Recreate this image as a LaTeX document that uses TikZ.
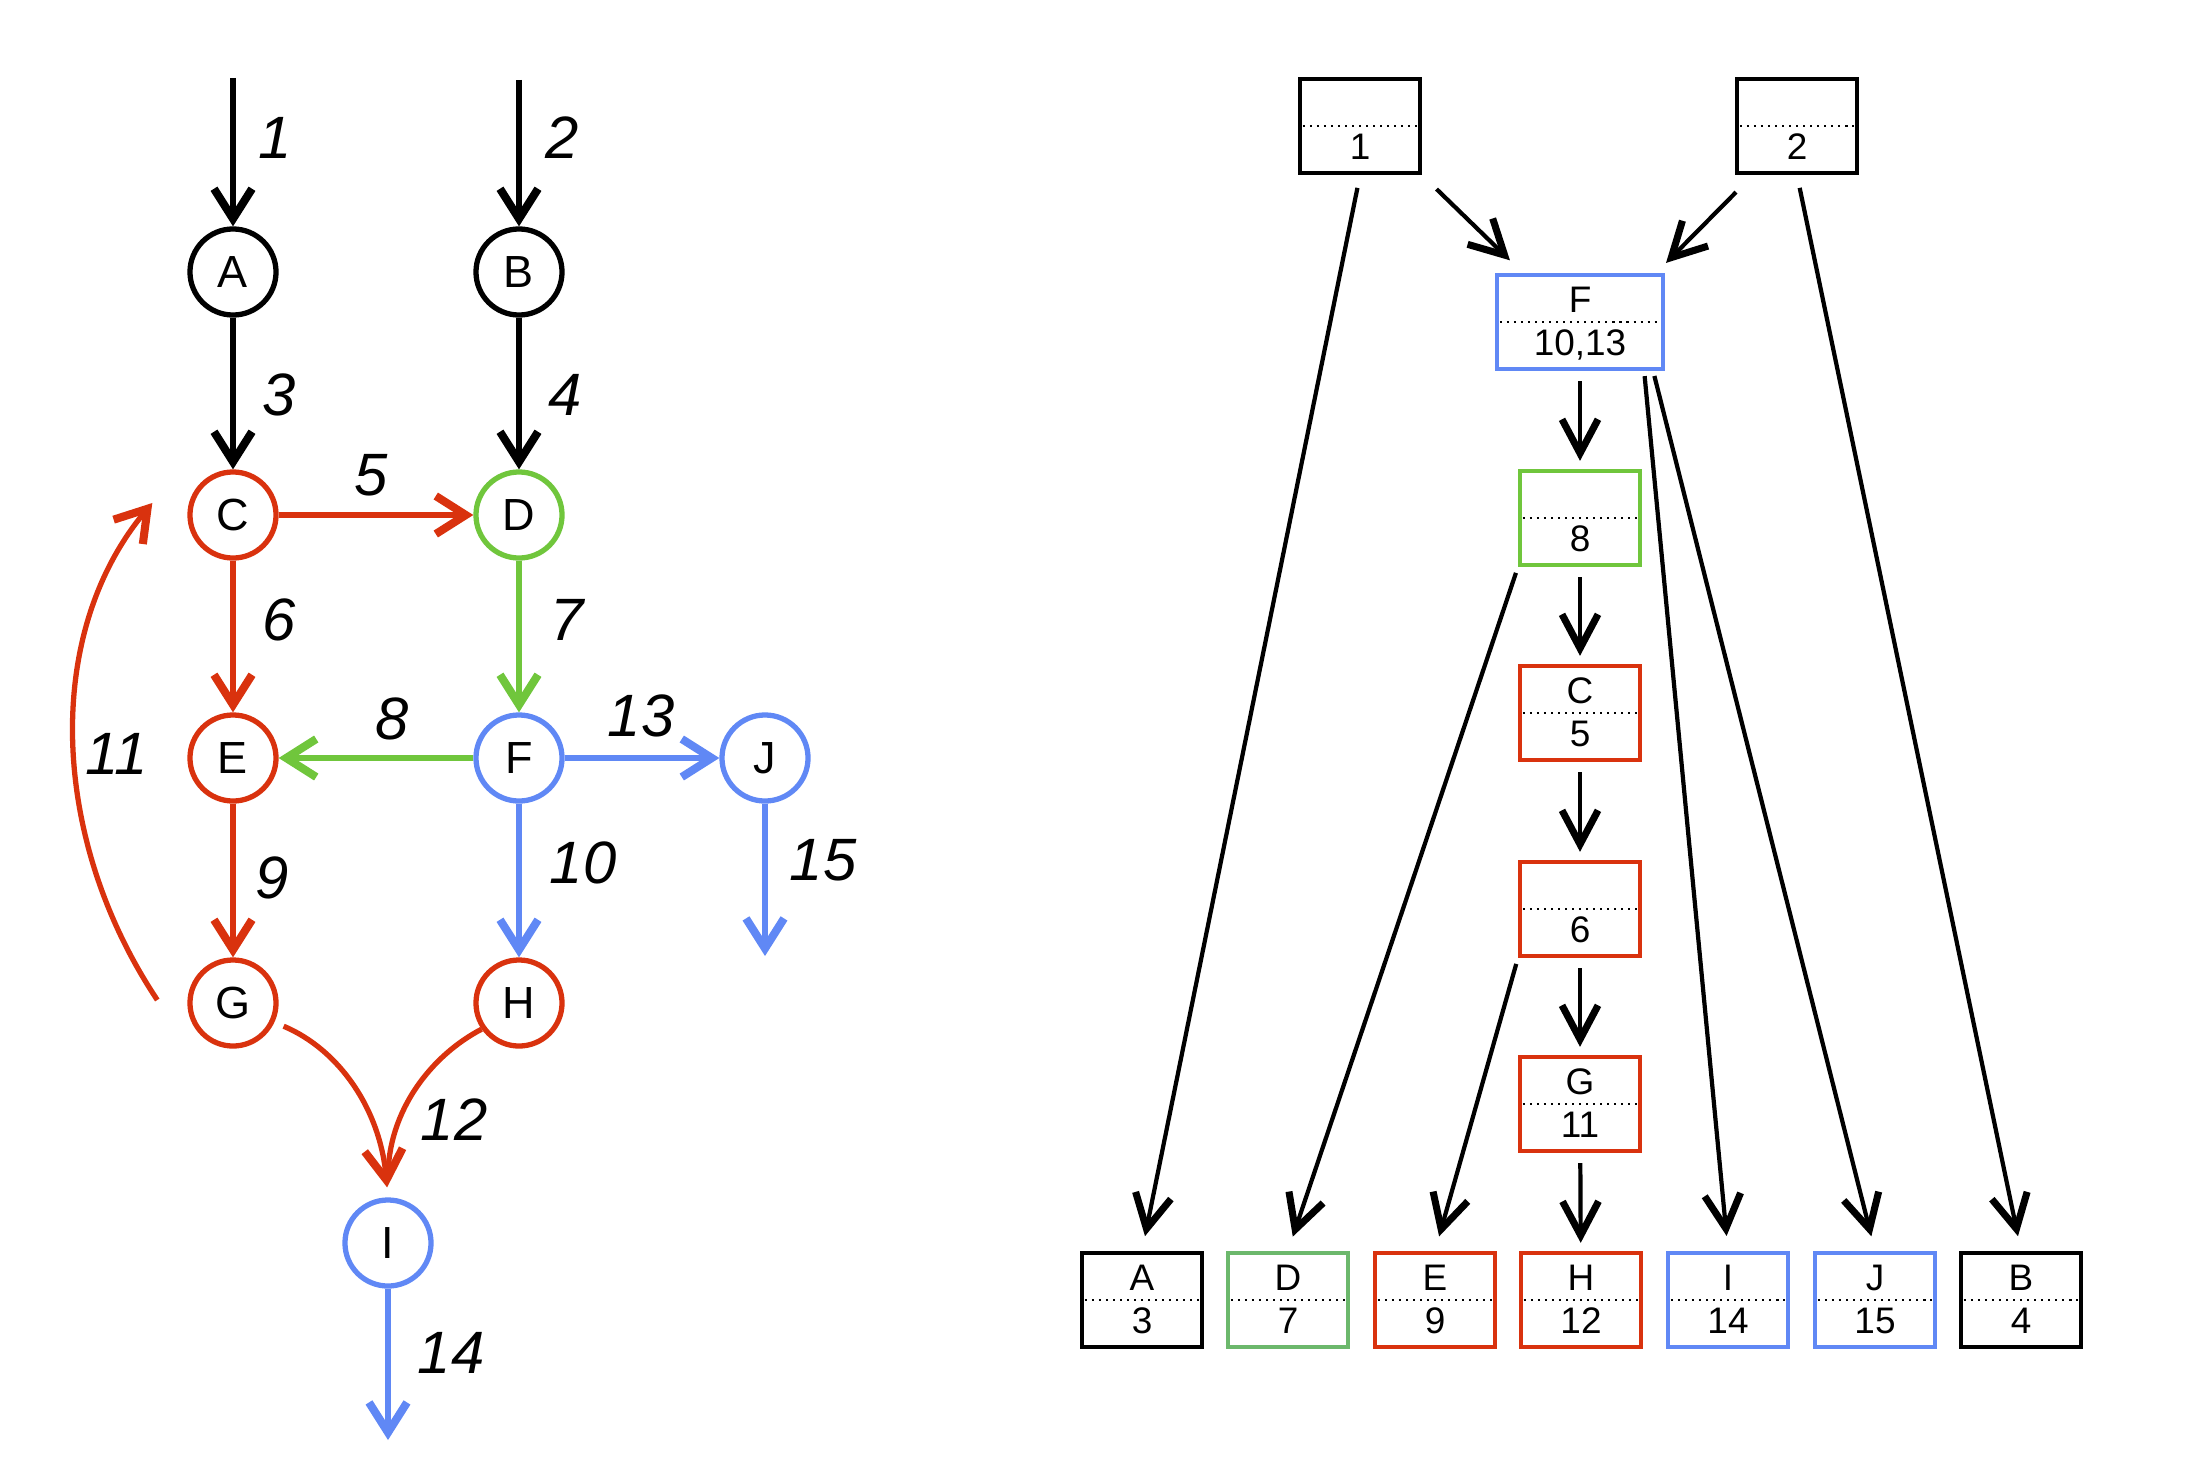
\documentclass[tikz,border=0pt]{standalone}
\usepackage{fontspec}
\setmainfont{Liberation Sans}
\usetikzlibrary{arrows.meta}

\definecolor{flowred}{RGB}{217,50,14}
\definecolor{flowgreen}{RGB}{112,198,60}
\definecolor{flowblue}{RGB}{96,136,245}
\definecolor{boxgreen}{RGB}{108,184,108}

\newcommand{\boxstrut}{\rule[-0.06cm]{0pt}{0.36cm}}

\begin{document}
\begin{tikzpicture}[x=0.01cm, y=-0.01cm,
    state/.style={draw, circle, line width=1.5pt, minimum size=0.86cm, inner sep=0pt, font=\fontsize{12.8}{14}\selectfont},
    flow/.style={line width=1.5pt, -{Straight Barb[length=0.3cm, width=0.38cm, line width=2.3pt]}},
    lbl/.style={font=\fontsize{17}{20}\selectfont\itshape},
    reg/.style={draw, rectangle, line width=1.2pt, minimum width=1.2cm, minimum height=0.94cm, inner sep=0pt, align=center, font=\fontsize{10.5}{12}\selectfont},
    link/.style={line width=1.2pt, -{Straight Barb[length=0.34cm, width=0.36cm, line width=2pt]}},
    sep/.style={line width=0.6pt, dash pattern=on 0.6pt off 1.4pt, shorten <=0.05cm, shorten >=0.05cm}]
    \useasboundingbox (0,0) rectangle (2210,1479);

    % Flow graph
    \node[state] (A) at (233,272) {A};
    \node[state] (B) at (519,272) {B};
    \node[state, draw=flowred] (C) at (233,515) {C};
    \node[state, draw=flowgreen] (D) at (519,515) {D};
    \node[state, draw=flowred] (E) at (233,758) {E};
    \node[state, draw=flowblue] (F) at (519,758) {F};
    \node[state, draw=flowblue] (J) at (765,758) {J};
    \node[state, draw=flowred] (G) at (233,1003) {G};
    \node[state, draw=flowred] (H) at (519,1003) {H};
    \node[state, draw=flowblue] (I) at (388,1243) {I};

    \coordinate (in1) at (233,78);
    \coordinate (in2) at (519,80);
    \coordinate (out15) at (765,956);
    \coordinate (out14) at (388,1440);

    % Edges
    \draw[flow] (in1) -- (A);
    \draw[flow] (in2) -- (B);
    \draw[flow] (A) -- (C);
    \draw[flow] (B) -- (D);
    \draw[flow, flowred] (C) -- (D);
    \draw[flow, flowred] (C) -- (E);
    \draw[flow, flowgreen] (D) -- (F);
    \draw[flow, flowgreen] (F) -- (E);
    \draw[flow, flowblue] (F) -- (J);
    \draw[flow, flowred] (E) -- (G);
    \draw[flow, flowblue] (F) -- (H);
    \draw[flow, flowblue] (J) -- (out15);
    \draw[flow, flowblue] (I) -- (out14);
    \draw[flow, flowred] ([xshift=-0.3cm,yshift=0.03cm]G.west) .. controls (50,839) and (43,634) .. ([xshift=-0.35cm,yshift=0.12cm]C.west);
    \draw[flow, flowred, shorten <=0.1cm, shorten >=0.1cm] (G.-25) .. controls (340,1050) and (380,1110) .. (I.north);
    \draw[flowred, line width=1.5pt, shorten >=0.2cm] (H.215) .. controls (432,1055) and (388,1110) .. (I.north);

    % Edge numbers
    \node[lbl] (n1) at (275,138) {1};
    \node[lbl] (n2) at (562,138) {2};
    \node[lbl] (n3) at (279,395) {3};
    \node[lbl] (n4) at (565,395) {4};
    \node[lbl] (n5) at (371,475) {5};
    \node[lbl] (n6) at (279,620) {6};
    \node[lbl] (n7) at (567,620) {7};
    \node[lbl] (n8) at (392,719) {8};
    \node[lbl] (n13) at (641,716) {13};
    \node[lbl] (n11) at (117,754) {11};
    \node[lbl] (n9) at (272,878) {9};
    \node[lbl] (n10) at (583,863) {10};
    \node[lbl] (n15) at (823,860) {15};
    \node[lbl] (n12) at (454,1120) {12};
    \node[lbl] (n14) at (451,1353) {14};

    % Tree of boxes
    \node[reg] (r1) at (1360,126) {\boxstrut\\\boxstrut 1};
    \node[reg] (r2) at (1797,126) {\boxstrut\\\boxstrut 2};
    \node[reg, draw=flowblue, minimum width=1.66cm] (rF) at (1580,322) {\boxstrut F\\\boxstrut 10,13};
    \node[reg, draw=flowgreen] (r8) at (1580,518) {\boxstrut\\\boxstrut 8};
    \node[reg, draw=flowred] (rC) at (1580,713) {\boxstrut C\\\boxstrut 5};
    \node[reg, draw=flowred] (r6) at (1580,909) {\boxstrut\\\boxstrut 6};
    \node[reg, draw=flowred] (rG) at (1580,1104) {\boxstrut G\\\boxstrut 11};

    % Bottom row
    \node[reg] (rA) at (1142,1300) {\boxstrut A\\\boxstrut 3};
    \node[reg, draw=boxgreen] (rD) at (1288,1300) {\boxstrut D\\\boxstrut 7};
    \node[reg, draw=flowred] (rE) at (1435,1300) {\boxstrut E\\\boxstrut 9};
    \node[reg, draw=flowred] (rH) at (1581,1300) {\boxstrut H\\\boxstrut 12};
    \node[reg, draw=flowblue] (rI) at (1728,1300) {\boxstrut I\\\boxstrut 14};
    \node[reg, draw=flowblue] (rJ) at (1875,1300) {\boxstrut J\\\boxstrut 15};
    \node[reg] (rB) at (2021,1300) {\boxstrut B\\\boxstrut 4};

    \foreach \n in {r1,r2,rF,r8,rC,r6,rG,rA,rD,rE,rH,rI,rJ,rB}
        \draw[sep] (\n.west) -- (\n.east);

    % Links
    \draw[link, shorten <=0.2cm, shorten >=0.18cm] (r1.south east) -- ([xshift=0.28cm]rF.north west);
    \draw[link, shorten <=0.24cm, shorten >=0.14cm] ([xshift=0.18cm]r2.south west) -- ([xshift=-0.09cm]rF.north east);
    \draw[link, shorten <=0.13cm, shorten >=0.15cm] (r1.south) -- (rA.north);
    \draw[link, shorten <=0.13cm, shorten >=0.15cm] (r2.south) -- (rB.north);
    \draw[link, shorten <=0.1cm, shorten >=0.08cm] (rF) -- (r8);
    \draw[link, shorten <=0.1cm, shorten >=0.08cm] (r8) -- (rC);
    \draw[link, shorten <=0.1cm, shorten >=0.08cm] (rC) -- (r6);
    \draw[link, shorten <=0.1cm, shorten >=0.08cm] (r6) -- (rG);
    \draw[link, shorten <=0.1cm, shorten >=0.08cm] (rG) -- (rH);
    \draw[link, shorten <=0.06cm, shorten >=0.15cm] (r8.south west) -- (rD.north);
    \draw[link, shorten <=0.06cm, shorten >=0.15cm] (r6.south west) -- (rE.north);
    \draw[link, shorten <=0.05cm, shorten >=0.15cm] ([xshift=-0.21cm]rF.south east) -- (rI.north);
    \draw[link, shorten <=0.05cm, shorten >=0.15cm] ([xshift=-0.12cm]rF.south east) -- (rJ.north);
\end{tikzpicture}
\end{document}
